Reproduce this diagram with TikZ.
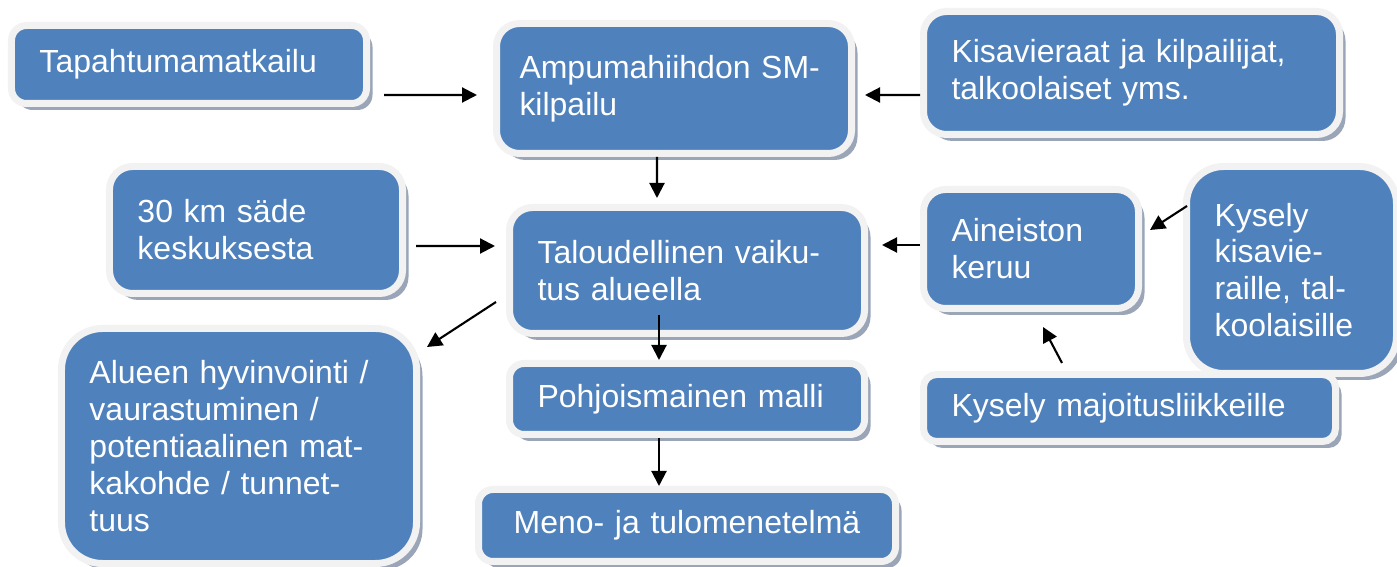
\documentclass[tikz,border=0pt]{standalone}
\usepackage{fontspec}
\setmainfont{Liberation Sans}
\usepackage{xcolor}
\usetikzlibrary{arrows.meta,positioning,shadows}
\definecolor{boxblue}{HTML}{4F81BD}
\definecolor{boxrim}{HTML}{F2F2F2}
\definecolor{boxshade}{HTML}{9AA6B8}
\tikzset{
    box/.style={draw=boxrim,fill=boxblue,line width=0.14cm,text=white,align=left,
        inner xsep=0.56cm,inner ysep=0.15cm,rounded corners=0.46cm,
        drop shadow={shadow xshift=0.12cm,shadow yshift=-0.13cm,fill=boxshade,opacity=1}},
    arr/.style={-{Triangle[length=0.3cm,width=0.3cm]},line width=1.2pt},
}
\tikzstyle{every node}=[font=\fontsize{18.2pt}{21pt}\selectfont]

\begin{document}
\begin{tikzpicture}[x=0.2mm,y=-0.2mm]
        \useasboundingbox (0,0) rectangle (1397,567);

        % top row
        \node[box,text width=5.98cm,minimum height=1.56cm,rounded corners=0.3cm] (tap) at (189,64.5) {Tapahtumamatkailu};
        \node[box,text width=6.18cm,inner xsep=0.46cm,minimum height=2.6cm] (amp) at (674,88.5) {Ampumahiihdon~SM-\\kilpailu};
        \node[box,text width=7.2cm,minimum height=2.46cm] (kisa) at (1131.5,73) {Kisavieraat ja kilpailijat,\\talkoolaiset yms.};

        % middle row
        \node[box,text width=4.74cm,minimum height=2.54cm] (sade) at (256,230) {30 km säde\\keskuksesta};
        \node[box,text width=5.98cm,minimum height=2.52cm] (talous) at (687,270.5) {Taloudellinen vaiku-\\tus alueella};
        \node[box,text width=3.18cm,minimum height=2.38cm,rounded corners=0.44cm] (keruu) at (1031,249) {Aineiston\\keruu};
        \node[box,text width=3.08cm,minimum height=4.14cm,rounded corners=0.74cm] (kyskisa) at (1291.5,270) {Kysely\\kisavie-\\raille, tal-\\koolaisille};

        % bottom part
        \node[box,text width=7.12cm,minimum height=1.34cm,rounded corners=0.26cm] (kysmaj) at (1129.5,408) {Kysely majoitusliikkeille};
        \node[box,text width=5.98cm,minimum height=4.7cm,rounded corners=0.82cm] (alue) at (239,446) {Alueen hyvinvointi /\\vaurastuminen /\\potentiaalinen mat-\\kakohde / tunnet-\\tuus};
        \node[box,text width=5.98cm,minimum height=1.42cm,rounded corners=0.29cm] (pohj) at (687,399) {Pohjoismainen malli};
        \node[box,text width=7.22cm,minimum height=1.44cm,rounded corners=0.29cm,align=center] (meno) at (687,525.5) {Meno- ja tulomenetelmä};

        \draw[arr] ([xshift=0.28cm,yshift=-0.61cm]tap.east) -- ([xshift=-0.32cm,yshift=-0.13cm]amp.west);
        \draw[arr] ([yshift=-0.44cm]kisa.west) -- ([xshift=0.2cm,yshift=-0.13cm]amp.east);
        \draw[arr] ([xshift=-0.34cm]amp.south) -- ([xshift=-0.6cm,yshift=0.12cm]talous.north);
        \draw[arr] ([xshift=0.2cm,yshift=-0.32cm]sade.east) -- ([xshift=-0.22cm,yshift=0.49cm]talous.west);
        \draw[arr] ([yshift=0.08cm]keruu.west) -- ([xshift=0.28cm,yshift=0.51cm]talous.east);
        \draw[arr] ([xshift=0.08cm,yshift=1.28cm]kyskisa.west) -- ([xshift=0.16cm,yshift=0.38cm]keruu.east);
        \draw[arr] ([xshift=-1.35cm,yshift=0.16cm]kysmaj.north) -- ([xshift=0.24cm,yshift=-0.3cm]keruu.south);
        \draw[arr] ([xshift=-0.2cm,yshift=-0.63cm]talous.west) -- ([xshift=0.14cm,yshift=1.98cm]alue.east);
        \draw[arr] ([xshift=-0.56cm,yshift=0.44cm]talous.south) -- ([xshift=-0.56cm]pohj.north);
        \draw[arr] ([xshift=-0.56cm]pohj.south) -- ([xshift=-0.56cm]meno.north);
\end{tikzpicture}
\end{document}
